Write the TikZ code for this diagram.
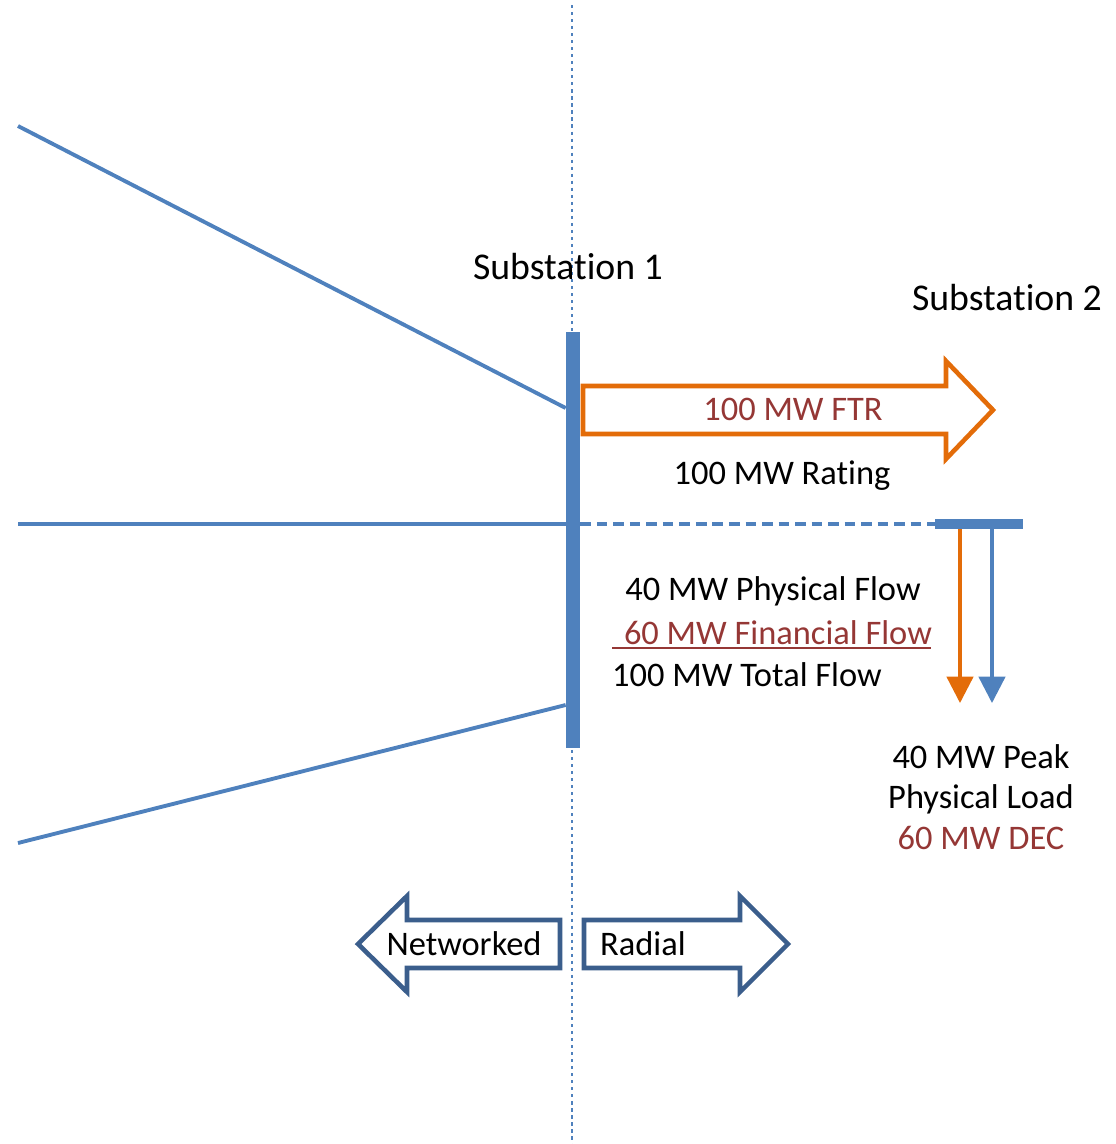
\documentclass[tikz,border=0pt]{standalone}
\usepackage{fontspec}
\setmainfont[Ligatures=NoCommon]{Carlito}
\usetikzlibrary{arrows.meta}
\definecolor{lineblue}{HTML}{4F81BD}
\definecolor{ftrorange}{HTML}{E36C09}
\definecolor{darkblue}{HTML}{3B5E8C}
\definecolor{textred}{HTML}{953735}
\tikzset{
  lbl/.style={font=\fontsize{19.6}{23.2}\selectfont, inner sep=0pt, align=center},
  sublbl/.style={lbl, font=\fontsize{21.5}{25}\selectfont},
  redlbl/.style={lbl, text=textred},
  feeder/.style={draw=lineblue, line width=2.2pt},
  busbar/.style={fill=lineblue, draw=none, inner sep=0pt},
  bigarrow/.style={line width=2.6pt, fill=white, line join=miter},
  loadarrow/.style={line width=1.9pt, -{Triangle[width=15pt,length=15pt]}}
}
\begin{document}
\begin{tikzpicture}[x=0.02cm,y=-0.02cm]
\useasboundingbox (0,0) rectangle (1116,1144);
% divider
\coordinate (dtop) at (572,5);
\coordinate (dbot) at (572,1144);
\draw[lineblue, line width=1.6pt, dash pattern=on 1.8pt off 2.2pt] (dtop) -- (dbot);
% substation 1 bus
\node[busbar, minimum width=0.28cm, minimum height=8.32cm] (bus1) at (573,540) {};
% feeders
\coordinate (f1) at (18,126);
\coordinate (f2) at (18,524);
\coordinate (f3) at (18,843);
\draw[feeder] (f1) -- (bus1.west |- 0,408);
\draw[feeder] (f2) -- (bus1.west |- 0,524);
\draw[feeder] (f3) -- (bus1.west |- 0,705);
% substation 2 bus
\node[busbar, minimum width=1.76cm, minimum height=0.2cm] (bus2) at (979,524) {};
\draw[lineblue, line width=2.2pt, dash pattern=on 6pt off 3.4pt] (bus1.east |- 0,524) -- (bus2.west);
% load arrows
\coordinate (oend) at (960,703);
\coordinate (bend) at (992,703);
\draw[loadarrow, ftrorange] (bus2.south -| oend) -- (oend);
\draw[loadarrow, lineblue] (bus2.south -| bend) -- (bend);
% FTR arrow
\draw[bigarrow, draw=ftrorange] (583,386) -- (946,386) -- (946,361) -- (993,410) -- (946,459) -- (946,434) -- (583,434) -- cycle;
\node[redlbl] (ftr) at (793,409) {100 MW FTR};
% labels
\node[sublbl] (sub1) at (568,267) {Substation 1};
\node[sublbl] (sub2) at (1007,298) {Substation 2};
\node[lbl] (rating) at (782,476) {100 MW Rating};
\node[lbl] (phys) at (773,591) {40 MW Physical Flow};
\node[redlbl] (fin) at (778,633) {60 MW Financial Flow};
\draw[textred, line width=0.9pt] (612,648) -- (931,648);
\node[lbl] (total) at (747,675) {100 MW Total Flow};
\node[lbl] (load) at (981,797) {40 MW Peak\\Physical Load\\\textcolor{textred}{60 MW DEC}};
% networked / radial arrows
\draw[bigarrow, draw=darkblue] (560,920) -- (407,920) -- (407,896) -- (358,944) -- (407,992) -- (407,968) -- (560,968) -- cycle;
\node[lbl] (net) at (464,944) {Networked};
\draw[bigarrow, draw=darkblue] (584,920) -- (740,920) -- (740,896) -- (788,944) -- (740,992) -- (740,968) -- (584,968) -- cycle;
\node[lbl] (rad) at (643,944) {Radial};
\end{tikzpicture}
\end{document}
